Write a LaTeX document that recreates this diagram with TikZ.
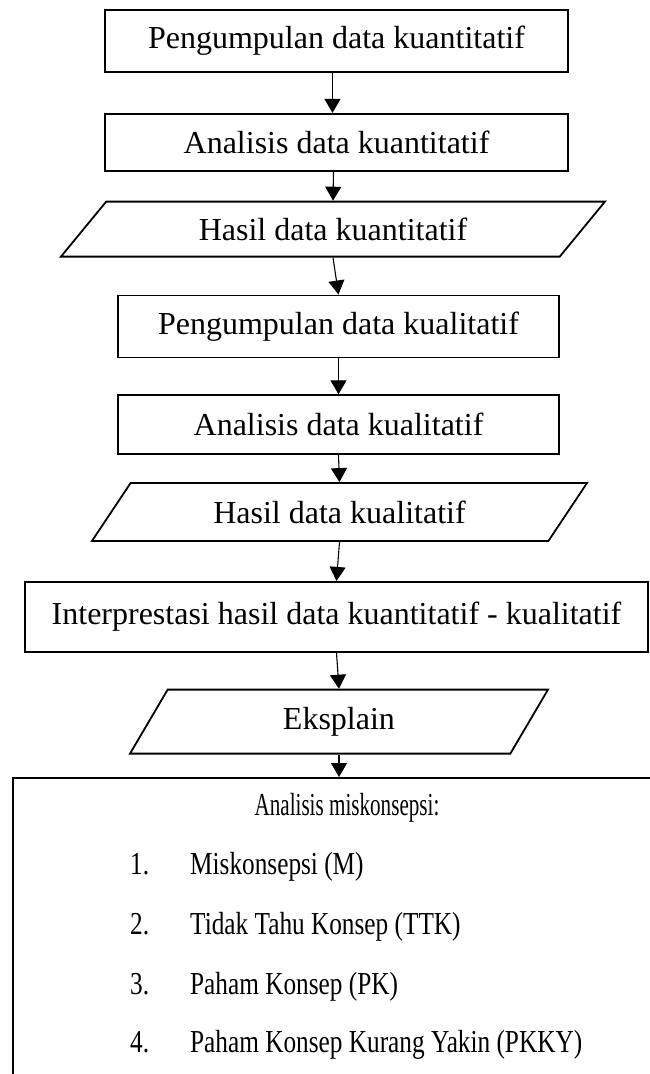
\documentclass[tikz,border=0pt]{standalone}
\usepackage{fontspec}
\setmainfont{Liberation Serif}
\newfontfamily\listfont{Liberation Serif}[FakeStretch=0.79]
\newfontfamily\titlefont{Liberation Serif}[FakeStretch=0.66]
\usetikzlibrary{arrows.meta, positioning, shapes.geometric}
\tikzset{
  procbox/.style={rectangle, draw=black, line width=1.8pt, fill=white,
                  minimum width=#1, inner sep=0pt,
                  font=\fontsize{32}{38}\selectfont, align=center},
  iobox/.style={trapezium, draw=black, line width=1.8pt, fill=white,
                trapezium stretches body=true, inner sep=0pt,
                minimum width=#1, font=\fontsize{32}{38}\selectfont},
  listtxt/.style={inner sep=0pt, font=\fontsize{32}{38}\listfont},
  arr/.style={-{Triangle[length=14pt, width=16pt]}, line width=1.1pt},
}
\begin{document}
\begin{tikzpicture}[x=1pt, y=1pt]
  \useasboundingbox (0,0) rectangle (650,-1074);

  \node[procbox=463pt, minimum height=62pt] (kuan) at (336.5,-41)
       {Pengumpulan data kuantitatif};
  \node[procbox=463pt, minimum height=57pt, below=40pt of kuan] (akuan)
       {Analisis data kuantitatif};
  \node[iobox=544pt, minimum height=55pt, trapezium left angle=26.8,
        trapezium right angle=153.2, below=29pt of akuan, xshift=-3.5pt] (hkuan)
       {Hasil data kuantitatif};

  \node[procbox=441pt, minimum height=62pt, below=37pt of hkuan, xshift=5.5pt] (kual)
       {Pengumpulan data kualitatif};
  \node[procbox=441pt, minimum height=59pt, below=36pt of kual] (akual)
       {Analisis data kualitatif};
  \node[iobox=495pt, minimum height=58pt, trapezium left angle=30.6,
        trapezium right angle=149.4, below=27pt of akual, xshift=1pt] (hkual)
       {Hasil data kualitatif};

  \node[procbox=623pt, minimum height=70pt, below=39pt of hkual, xshift=-3pt] (interp)
       {Interprestasi hasil data kuantitatif - kualitatif};
  \node[iobox=418pt, minimum height=64pt, trapezium left angle=37.6,
        trapezium right angle=142.4, below=36pt of interp, xshift=2.5pt] (eks)
       {Eksplain};

  % box cut off by the page at right and bottom
  \node[procbox=658pt, minimum height=330pt, anchor=north west] (mis) at (12,-777) {};
  \node[listtxt, font=\fontsize{32}{38}\titlefont] (mtitle) at (347,-808) {Analisis miskonsepsi:};
  \node[listtxt, anchor=west] (m1) at (130,-867) {\makebox[60pt][l]{1.}Miskonsepsi (M)};
  \node[listtxt, below=60pt of m1.west, anchor=west] (m2) {\makebox[60pt][l]{2.}Tidak Tahu Konsep (TTK)};
  \node[listtxt, below=60pt of m2.west, anchor=west] (m3) {\makebox[60pt][l]{3.}Paham Konsep (PK)};
  \node[listtxt, below=58pt of m3.west, anchor=west] (m4) {\makebox[60pt][l]{4.}Paham Konsep Kurang Yakin (PKKY)};

  \draw[arr] ([xshift=-4pt]kuan.south) -- ([xshift=-4pt]akuan.north);
  \draw[arr] ([xshift=-3pt]akuan.south) -- (hkuan.north);
  \draw[arr] (hkuan.south) -- (kual.north);
  \draw[arr] (kual) -- (akual);
  \draw[arr] (akual.south) -- (hkual.north);
  \draw[arr] (hkual.south) -- (interp.north);
  \draw[arr] (interp.south) -- (eks.north);
  \draw[arr] (eks.south) -- (eks.south |- mis.north);
\end{tikzpicture}
\end{document}
